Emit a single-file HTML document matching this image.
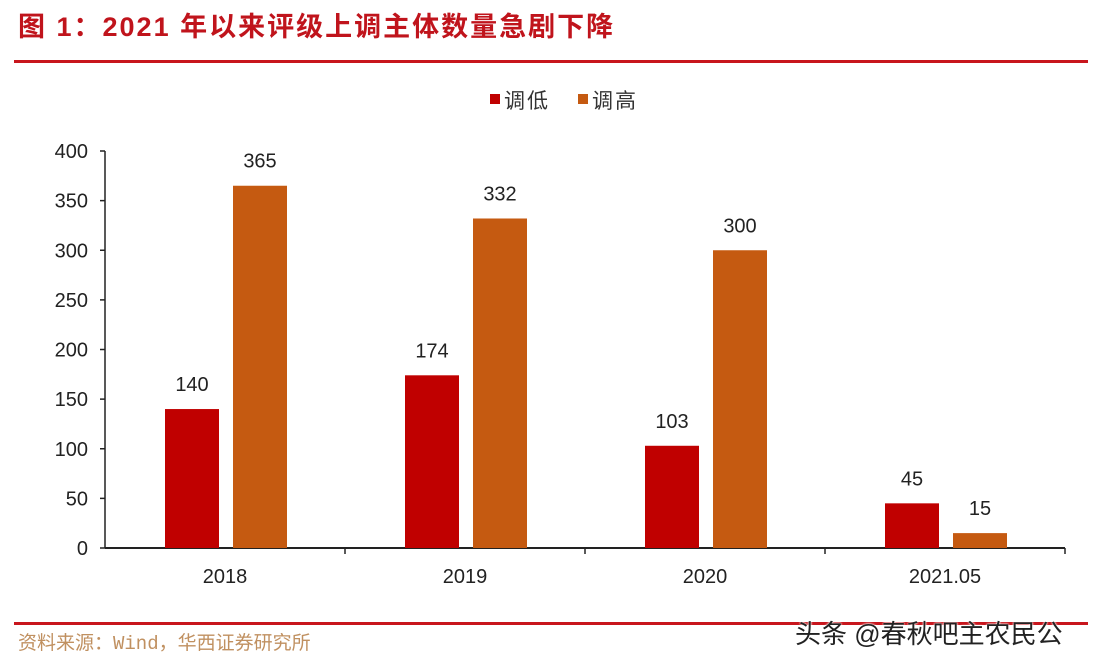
<!DOCTYPE html>
<html><head><meta charset="utf-8"><style>
body{margin:0;background:#fff;width:1100px;height:662px;overflow:hidden;position:relative;font-family:"Liberation Sans","Noto Sans CJK SC",sans-serif}
.t{position:absolute}
</style></head><body>
<div class="t" style="left:18px;top:5px;font-size:27px;letter-spacing:2px;font-weight:bold;color:#c0141c;white-space:nowrap">图 1：2021 年以来评级上调主体数量急剧下降</div>
<div class="t" style="left:14px;top:60px;width:1074px;height:3px;background:#c8161d"></div>
<svg id="c" class="t" style="left:0;top:0" width="1100" height="662"></svg>
<div class="t" style="left:14px;top:622px;width:1074px;height:3px;background:#c8161d"></div>
<div class="t" style="left:18px;top:628px;font-size:19px;color:#c09060;font-family:'Liberation Mono','Noto Sans CJK SC',monospace;white-space:nowrap">资料来源：Wind，华西证券研究所</div>
<div class="t" style="left:795px;top:614px;font-size:26px;color:#222;white-space:nowrap;text-shadow:0 0 2px #fff,0 0 2px #fff">头条 @春秋吧主农民公</div>
<script>
const categories=["2018","2019","2020","2021.05"];
const downValues=[140,174,103,45];
const upValues=[365,332,300,15];
const yTicks=[0,50,100,150,200,250,300,350,400];
const seriesNames=["调低","调高"];
const ns="http://www.w3.org/2000/svg",svg=document.getElementById("c");
const x0=105,x1=1065,y0=548,y1=151,yMax=400;
const y=v=>y0-(v/yMax)*(y0-y1);
const band=(x1-x0)/categories.length;
function mk(t,a,txt){const e=document.createElementNS(ns,t);for(const k in a)e.setAttribute(k,a[k]);if(txt!==undefined)e.textContent=txt;svg.appendChild(e);return e;}
yTicks.forEach(v=>{
 const e=mk("text",{x:88,y:y(v)+7,"text-anchor":"end","font-size":"20",fill:"#222"},v);
 
 
 const t=mk("line",{x1:x0-5,x2:x0,y1:y(v),y2:y(v),stroke:"#222","stroke-width":1.5});
 
 
});
const ya=mk("line",{x1:x0,x2:x0,y1:y1,y2:y0,stroke:"#222","stroke-width":1.5});


const xa=mk("line",{x1:x0,x2:x1,y1:y0,y2:y0,stroke:"#222","stroke-width":2});


const colors=["#c00000","#c55a11"];
categories.forEach((c,i)=>{
 const cx=x0+band*(i+0.5);
 const tk=mk("line",{x1:x0+band*(i+1),x2:x0+band*(i+1),y1:y0,y2:y0+6,stroke:"#222","stroke-width":1.5});
 
 
 const l=mk("text",{x:cx,y:583,"text-anchor":"middle","font-size":"20",fill:"#222"},c);
 
 
 [downValues[i],upValues[i]].forEach((v,s)=>{
  const bx=s===0?cx-60:cx+8;
  const r=mk("rect",{x:bx,y:y(v),width:54,height:y0-y(v),fill:colors[s]});
  
  
  const vt=mk("text",{x:bx+27,y:y(v)-18,"text-anchor":"middle","font-size":"20",fill:"#222"},v);
  
  
 });
});
seriesNames.forEach((n,s)=>{
 const lx=490+s*88;
 const sw=mk("rect",{x:lx,y:94,width:10,height:10,fill:colors[s]});
 
 
 const lt=mk("text",{x:lx+14,y:108,"font-size":"21","letter-spacing":"2",fill:"#333"},n);
 
 
});
</script>
</body></html>
